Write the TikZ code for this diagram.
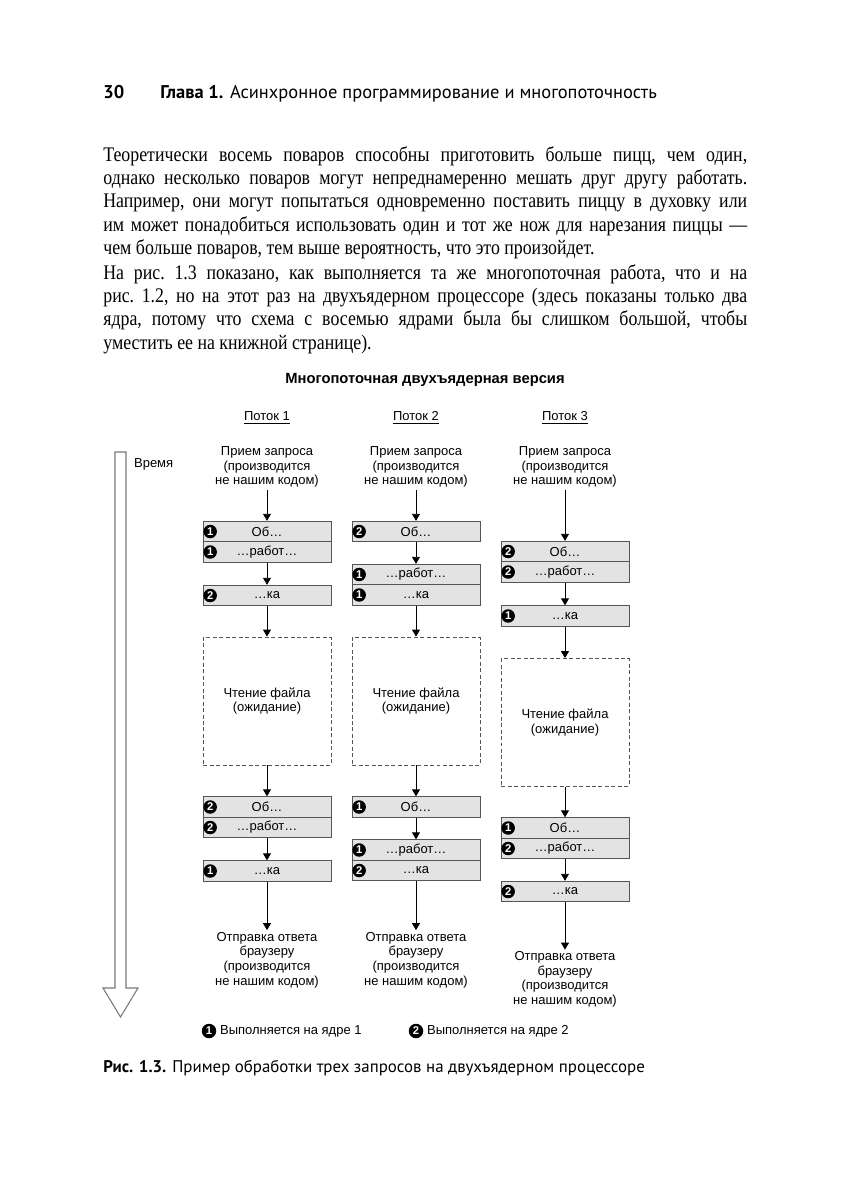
\documentclass[tikz,border=0pt]{standalone}
\usepackage{fontspec}
\setmainfont{Liberation Serif}[FakeStretch=0.86]
\newfontfamily\figfont{Liberation Sans}
\newfontfamily\headfont{PT Sans}
\definecolor{cellgray}{RGB}{227, 227, 227}
\definecolor{edgegray}{RGB}{85, 85, 85}
\definecolor{timegray}{RGB}{120, 120, 120}
\usetikzlibrary{arrows.meta, positioning}

\begin{document}
\begin{tikzpicture}[x=0.02cm, y=-0.02cm,
    body/.style={anchor=base west, inner sep=0, font=\fontsize{11.8}{14}\selectfont\frenchspacing},
    head/.style={anchor=base west, inner sep=0, font=\headfont\fontsize{10.5}{12}\selectfont},
    lbl/.style={align=center, inner sep=1pt, font=\figfont\fontsize{7.4}{8.3}\selectfont},
    cell/.style={draw=edgegray, fill=cellgray, line width=0.5pt, minimum width=2.56cm, minimum height=0.41cm, inner sep=0, font=\figfont\fontsize{7.4}{8.3}\selectfont},
    wait/.style={draw=edgegray, dash pattern=on 0.8mm off 0.5mm, line width=0.5pt, minimum width=2.56cm, minimum height=2.56cm, align=center, inner sep=0, font=\figfont\fontsize{7.4}{8.3}\selectfont},
    badge/.style={circle, fill=black, text=white, inner sep=0, minimum size=0.27cm, font=\figfont\bfseries\fontsize{6.4}{7}\selectfont},
    flow/.style={-{Triangle[length=1.4mm, width=1.6mm]}, line width=0.5pt}]

    \fill[white] (0,0) rectangle (849,1200);
    \useasboundingbox (0,0) rectangle (849,1200);

    % Running head
    \node[head] (pagenum) at (103,98) {\textbf{30}};
    \node[head] (runhead) at (160,98) {\textbf{Глава 1.} Асинхронное программирование и многопоточность};

    % Body text
    \node[body] (p1l1) at (103,161) {\makebox[12.88cm][s]{Теоретически восемь поваров способны приготовить больше пицц, чем один,}};
    \node[body] (p1l2) at (103,184.4) {\makebox[12.88cm][s]{однако несколько поваров могут непреднамеренно мешать друг другу работать.}};
    \node[body] (p1l3) at (103,207.8) {\makebox[12.88cm][s]{Например, они могут попытаться одновременно поставить пиццу в духовку или}};
    \node[body] (p1l4) at (103,231.2) {\makebox[12.88cm][s]{им может понадобиться использовать один и тот же нож для нарезания пиццы —}};
    \node[body] (p1l5) at (103,254.6) {чем больше поваров, тем выше вероятность, что это произойдет.};
    \node[body] (p2l1) at (103,279) {\makebox[12.88cm][s]{На рис. 1.3 показано, как выполняется та же многопоточная работа, что и на}};
    \node[body] (p2l2) at (103,302.4) {\makebox[12.88cm][s]{рис. 1.2, но на этот раз на двухъядерном процессоре (здесь показаны только два}};
    \node[body] (p2l3) at (103,325.8) {\makebox[12.88cm][s]{ядра, потому что схема с восемью ядрами была бы слишком большой, чтобы}};
    \node[body] (p2l4) at (103,349.2) {уместить ее на книжной странице).};

    % Figure title and thread headers
    \node[lbl, font=\figfont\bfseries\fontsize{8.4}{10}\selectfont] (title) at (425,380) {Многопоточная двухъядерная версия};
    \node[lbl] (th1) at (267,418) {\underline{Поток 1}};
    \node[lbl] (th2) at (416,418) {\underline{Поток 2}};
    \node[lbl] (th3) at (565,418) {\underline{Поток 3}};

    % Time axis
    \draw[timegray, line width=0.6pt, line join=miter] (115,452) -- (126,452) -- (126,988) -- (138,988) -- (120.5,1017) -- (103,988) -- (115,988) -- cycle;
    \node[lbl, anchor=west] (time) at (132,464) {Время};

    % Thread 1
    \node[lbl] (recv1) at (267,467) {Прием запроса\\(производится\\не нашим кодом)};
    \node[cell] (c1a) at (267,531.5) {Об…};
    \node[cell] (c1b) at (267,552) {…работ…};
    \node[cell] (c1c) at (267,595.5) {…ка};
    \node[wait] (wait1) at (267,701) {Чтение файла\\(ожидание)};
    \node[cell] (c1d) at (267,807) {Об…};
    \node[cell] (c1e) at (267,827.5) {…работ…};
    \node[cell] (c1f) at (267,871) {…ка};
    \node[lbl] (send1) at (267,960) {Отправка ответа\\браузеру\\(производится\\не нашим кодом)};
    \node[badge, right=0.01cm of c1a.west] (k1a) {1};
    \node[badge, right=0.01cm of c1b.west] (k1b) {1};
    \node[badge, right=0.01cm of c1c.west] (k1c) {2};
    \node[badge, right=0.01cm of c1d.west] (k1d) {2};
    \node[badge, right=0.01cm of c1e.west] (k1e) {2};
    \node[badge, right=0.01cm of c1f.west] (k1f) {1};

    % Thread 2
    \node[lbl] (recv2) at (416,467) {Прием запроса\\(производится\\не нашим кодом)};
    \node[cell] (c2a) at (416,531.5) {Об…};
    \node[cell] (c2b) at (416,574.5) {…работ…};
    \node[cell] (c2c) at (416,595) {…ка};
    \node[wait] (wait2) at (416,701) {Чтение файла\\(ожидание)};
    \node[cell] (c2d) at (416,807) {Об…};
    \node[cell] (c2e) at (416,850) {…работ…};
    \node[cell] (c2f) at (416,870.5) {…ка};
    \node[lbl] (send2) at (416,960) {Отправка ответа\\браузеру\\(производится\\не нашим кодом)};
    \node[badge, right=0.01cm of c2a.west] (k2a) {2};
    \node[badge, right=0.01cm of c2b.west] (k2b) {1};
    \node[badge, right=0.01cm of c2c.west] (k2c) {1};
    \node[badge, right=0.01cm of c2d.west] (k2d) {1};
    \node[badge, right=0.01cm of c2e.west] (k2e) {1};
    \node[badge, right=0.01cm of c2f.west] (k2f) {2};

    % Thread 3
    \node[lbl] (recv3) at (565,467) {Прием запроса\\(производится\\не нашим кодом)};
    \node[cell] (c3a) at (565,551.5) {Об…};
    \node[cell] (c3b) at (565,572) {…работ…};
    \node[cell] (c3c) at (565,616) {…ка};
    \node[wait] (wait3) at (565,722.5) {Чтение файла\\(ожидание)};
    \node[cell] (c3d) at (565,828) {Об…};
    \node[cell] (c3e) at (565,848.5) {…работ…};
    \node[cell] (c3f) at (565,891.5) {…ка};
    \node[lbl] (send3) at (565,979.5) {Отправка ответа\\браузеру\\(производится\\не нашим кодом)};
    \node[badge, right=0.01cm of c3a.west] (k3a) {2};
    \node[badge, right=0.01cm of c3b.west] (k3b) {2};
    \node[badge, right=0.01cm of c3c.west] (k3c) {1};
    \node[badge, right=0.01cm of c3d.west] (k3d) {1};
    \node[badge, right=0.01cm of c3e.west] (k3e) {2};
    \node[badge, right=0.01cm of c3f.west] (k3f) {2};

    % Arrows
    \draw[flow] (recv1) -- (c1a);
    \draw[flow] (c1b) -- (c1c);
    \draw[flow] (c1c) -- (wait1);
    \draw[flow] (wait1) -- (c1d);
    \draw[flow] (c1e) -- (c1f);
    \draw[flow] (c1f) -- (send1);
    \draw[flow] (recv2) -- (c2a);
    \draw[flow] (c2a) -- (c2b);
    \draw[flow] (c2c) -- (wait2);
    \draw[flow] (wait2) -- (c2d);
    \draw[flow] (c2d) -- (c2e);
    \draw[flow] (c2f) -- (send2);
    \draw[flow] (recv3) -- (c3a);
    \draw[flow] (c3b) -- (c3c);
    \draw[flow] (c3c) -- (wait3);
    \draw[flow] (wait3) -- (c3d);
    \draw[flow] (c3e) -- (c3f);
    \draw[flow] (c3f) -- (send3);

    % Legend
    \node[badge, minimum size=0.29cm] (key1) at (209,1031) {1};
    \node[lbl, anchor=west] (keytext1) at (218,1031) {Выполняется на ядре 1};
    \node[badge, minimum size=0.29cm] (key2) at (416,1031) {2};
    \node[lbl, anchor=west] (keytext2) at (425,1031) {Выполняется на ядре 2};

    % Caption
    \node[head, font=\headfont\fontsize{9.6}{11}\selectfont] (caption) at (103,1072) {\textbf{Рис. 1.3.} Пример обработки трех запросов на двухъядерном процессоре};
\end{tikzpicture}
\end{document}
